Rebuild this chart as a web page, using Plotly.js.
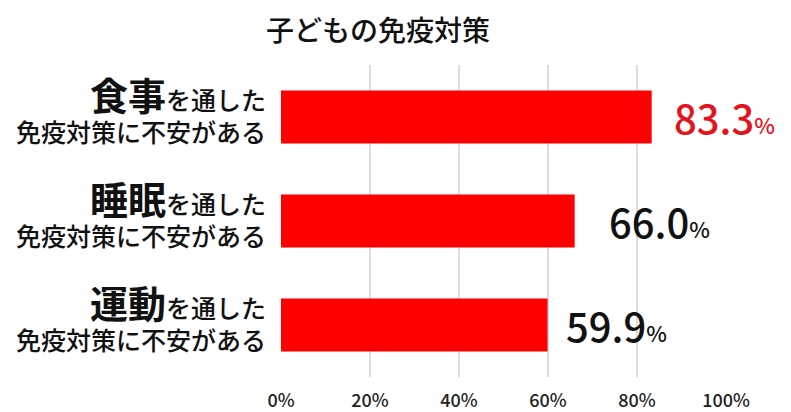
<!DOCTYPE html>
<html>
<head>
<meta charset="utf-8">
<script src="https://cdn.plot.ly/plotly-3.0.1.min.js"></script>
<style>
  html, body { margin: 0; padding: 0; background: #fff; }
  #plot { width: 791px; height: 412px; }
</style>
</head>
<body>
<div id="plot"></div>
<script>
// Chart data
const categories = ['食事', '睡眠', '運動'];
const values = [83.3, 66.0, 59.9];
const tickValues = [0, 20, 40, 60, 80, 100];
const tickLabels = ['0%', '20%', '40%', '60%', '80%', '100%'];
const labelMiddle = 'を通した';
const labelSecond = '免疫対策に不安がある';

const FONT = '"Noto Sans CJK JP", "Noto Sans", sans-serif';
const barRed = '#ff0000';
const labelColors = ['#e3141b', '#111111', '#111111'];
const labelShifts = [20, 32, 16];

// Two-line category labels, the keyword drawn large and bold
const categoryText = categories.map(c =>
    '<b><span style="font-size:38px">' + c + '</span></b>' + labelMiddle + '<br>' + labelSecond
);

const barTrace = {
    type: 'bar',
    orientation: 'h',
    x: values,
    y: categories,
    width: 0.51,
    marker: { color: barRed },
    hoverinfo: 'skip'
};

// Value labels right of each bar
const valueNotes = values.map((v, i) => ({
    x: v,
    y: categories[i],
    xref: 'x',
    yref: 'y',
    text: v.toFixed(1) + '<span style="font-size:22px">%</span>',
    showarrow: false,
    xanchor: 'left',
    yanchor: 'middle',
    xshift: labelShifts[i],
    font: { family: FONT, size: 40, weight: 500, color: labelColors[i] }
}));

const layout = {
    width: 791,
    height: 412,
    margin: { l: 281, r: 65, t: 65, b: 35 },
    paper_bgcolor: '#ffffff',
    plot_bgcolor: '#ffffff',
    showlegend: false,
    font: { family: FONT, color: '#111111' },
    title: {
        text: '子どもの免疫対策',
        font: { family: FONT, size: 28, weight: 500, color: '#111111' },
        xref: 'container',
        yref: 'container',
        x: 0.478,
        y: 0.925,
        xanchor: 'center',
        yanchor: 'middle'
    },
    xaxis: {
        range: [0, 100],
        tickvals: tickValues,
        ticktext: tickLabels,
        tickfont: { family: FONT, size: 18, weight: 500, color: '#222222' },
        ticklabelstandoff: 11,
        showgrid: true,
        gridcolor: '#dcdcdc',
        gridwidth: 1.5,
        zeroline: false,
        showline: false,
        ticks: '',
        fixedrange: true
    },
    yaxis: {
        type: 'category',
        autorange: 'reversed',
        tickvals: categories,
        ticktext: categoryText,
        tickfont: { family: FONT, size: 25, weight: 500, color: '#111111' },
        ticklabelstandoff: 14,
        showgrid: false,
        zeroline: false,
        showline: false,
        ticks: '',
        fixedrange: true
    },
    annotations: valueNotes
};

Plotly.newPlot('plot', [barTrace], layout, { displayModeBar: false, staticPlot: true });
</script>
</body>
</html>
